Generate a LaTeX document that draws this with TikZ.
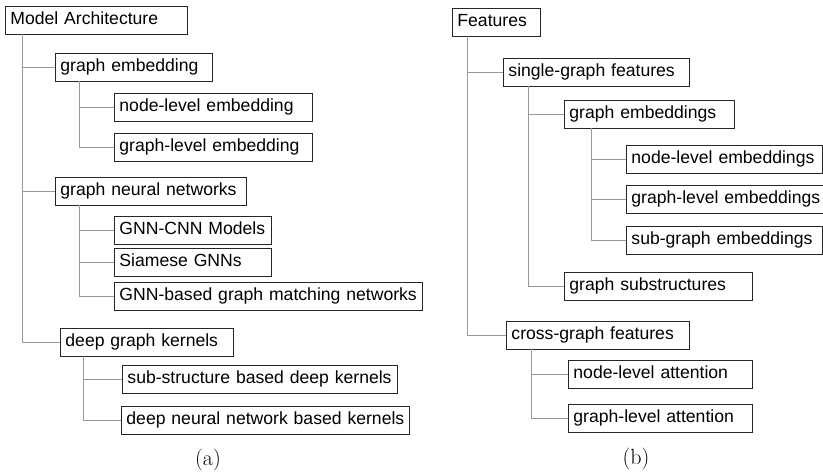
\documentclass[tikz,border=0pt]{standalone}
\usepackage{fontspec}
\newfontfamily\boxfont{Liberation Sans}

\begin{document}
\begin{tikzpicture}
			[x=1pt,y=-1pt,
			box/.style={draw=black!85,line width=0.9pt,anchor=west,font=\boxfont\fontsize{17.6}{20}\selectfont,
				inner xsep=5pt,inner ysep=0pt,text height=13pt,text depth=4pt,minimum height=28pt,align=left},
			boxw/.style={text width=#1-10},
			link/.style={draw=black!40,line width=0.9pt},
			subcap/.style={font=\fontsize{22}{24}\selectfont}]

			\useasboundingbox (0,0) rectangle (823,472);

			% (a) model architecture
			\node[box,boxw=182] (arch) at (5,20) {Model Architecture};
			\node[box,boxw=157] (gemb) at (55,67) {graph embedding};
			\node[box,boxw=198] (nodeemb) at (114,107) {node-level embedding};
			\node[box,boxw=198] (graphemb) at (114,147) {graph-level embedding};
			\node[box,boxw=191] (gnn) at (55,191) {graph neural networks};
			\node[box,boxw=157] (gnncnn) at (114,230) {GNN-CNN Models};
			\node[box,boxw=157] (siamese) at (114,262) {Siamese GNNs};
			\node[box,boxw=308] (gmn) at (114,296) {GNN-based graph matching networks};
			\node[box,boxw=173] (dgk) at (60,342) {deep graph kernels};
			\node[box,boxw=275] (subkern) at (122,379) {sub-structure based deep kernels};
			\node[box,boxw=288] (dnnkern) at (121,420) {deep neural network based kernels};
			\node[subcap] (capa) at (208,460) {(a)};

			\draw[link] (arch.south west) ++(17,0) |- (gemb.west);
			\draw[link] (arch.south west) ++(17,0) |- (gnn.west);
			\draw[link] (arch.south west) ++(17,0) |- (dgk.west);
			\draw[link] (gemb.south west) ++(24,0) |- (nodeemb.west);
			\draw[link] (gemb.south west) ++(24,0) |- (graphemb.west);
			\draw[link] (gnn.south west) ++(24,0) |- (gnncnn.west);
			\draw[link] (gnn.south west) ++(24,0) |- (siamese.west);
			\draw[link] (gnn.south west) ++(24,0) |- (gmn.west);
			\draw[link] (dgk.south west) ++(23,0) |- (subkern.west);
			\draw[link] (dgk.south west) ++(23,0) |- (dnnkern.west);

			% (b) features
			\node[box,boxw=88] (feat) at (452,22) {Features};
			\node[box,boxw=186] (single) at (503,72) {single-graph features};
			\node[box,boxw=170] (gembs) at (564,114) {graph embeddings};
			\node[box,boxw=196] (nodeembs) at (626,159) {node-level embeddings};
			\node[box,boxw=212] (graphembs) at (626,199) {graph-level embeddings};
			\node[box,boxw=196] (subembs) at (626,240) {sub-graph embeddings};
			\node[box,boxw=188] (substr) at (564,286) {graph substructures};
			\node[box,boxw=183] (cross) at (506,335) {cross-graph features};
			\node[box,boxw=184] (nodeatt) at (568,374) {node-level attention};
			\node[box,boxw=184] (graphatt) at (568,418) {graph-level attention};
			\node[subcap] (capb) at (636,459) {(b)};

			\draw[link] (feat.south west) ++(15,0) |- (single.west);
			\draw[link] (feat.south west) ++(15,0) |- (cross.west);
			\draw[link] (single.south west) ++(25,0) |- (gembs.west);
			\draw[link] (single.south west) ++(25,0) |- (substr.west);
			\draw[link] (gembs.south west) ++(27,0) |- (nodeembs.west);
			\draw[link] (gembs.south west) ++(27,0) |- (graphembs.west);
			\draw[link] (gembs.south west) ++(27,0) |- (subembs.west);
			\draw[link] (cross.south west) ++(25,0) |- (nodeatt.west);
			\draw[link] (cross.south west) ++(25,0) |- (graphatt.west);
		\end{tikzpicture}
\end{document}
